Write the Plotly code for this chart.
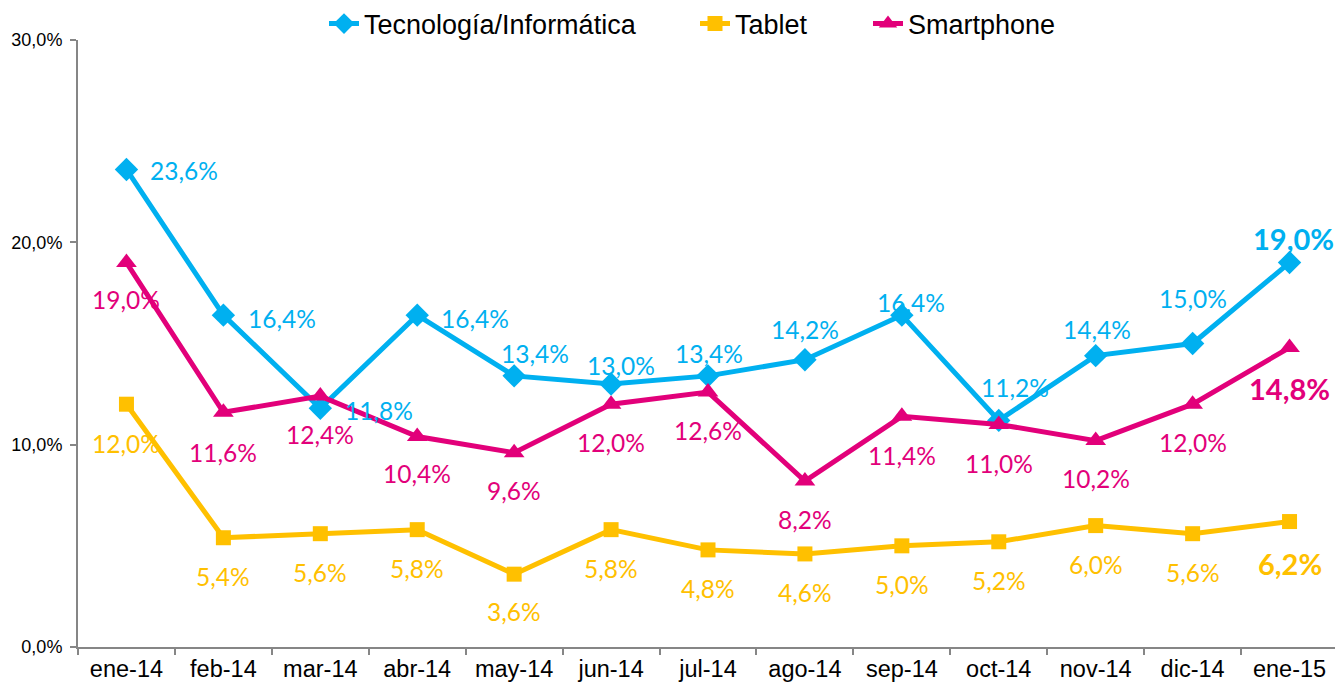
import plotly.graph_objects as go

categories = ["ene-14", "feb-14", "mar-14", "abr-14", "may-14", "jun-14", "jul-14",
              "ago-14", "sep-14", "oct-14", "nov-14", "dic-14", "ene-15"]
tecnologia = [23.6, 16.4, 11.8, 16.4, 13.4, 13.0, 13.4, 14.2, 16.4, 11.2, 14.4, 15.0, 19.0]
tablet = [12.0, 5.4, 5.6, 5.8, 3.6, 5.8, 4.8, 4.6, 5.0, 5.2, 6.0, 5.6, 6.2]
smartphone = [19.0, 11.6, 12.4, 10.4, 9.6, 12.0, 12.6, 8.2, 11.4, 11.0, 10.2, 12.0, 14.8]
y_ticks = [0, 10, 20, 30]

C_TEC = "#00B0F0"
C_TAB = "#FFC000"
C_SMA = "#E2007A"

# page body has an 8px default margin; figure is sized to compensate
W, H = 1335, 680

# label offsets in pixels (dx right, dy down)
off_tec = [(58, 1), (59, 3), (59, 2), (58, 3), (21, -22), (10, -18), (1, -22),
           (0, -30), (9, -13), (16, -33), (1, -26), (0, -45), (4, -24)]
off_sma = [(0, 37), (0, 40), (0, 38), (0, 37), (0, 38), (0, 38), (0, 38),
           (0, 38), (0, 39), (0, 39), (0, 38), (0, 38), (0, 41)]
off_tab = [(0, 39), (0, 39), (0, 39), (0, 39), (0, 37), (0, 39), (0, 39),
           (0, 39), (0, 39), (0, 39), (0, 39), (0, 39), (0, 42)]


def fmt(v):
    return f"{v:.1f}".replace(".", ",") + "%"


fig = go.Figure()
fig.add_trace(go.Scatter(x=categories, y=tecnologia, name="Tecnología/Informática",
                         mode="lines+markers", line=dict(color=C_TEC, width=5),
                         marker=dict(symbol="diamond", size=18, color=C_TEC),
                         legend="legend"))
fig.add_trace(go.Scatter(x=categories, y=tablet, name="Tablet",
                         mode="lines+markers", line=dict(color=C_TAB, width=5),
                         marker=dict(symbol="square", size=15, color=C_TAB),
                         legend="legend2"))
fig.add_trace(go.Scatter(x=categories, y=smartphone, name="Smartphone",
                         mode="lines+markers", line=dict(color=C_SMA, width=5),
                         marker=dict(symbol="triangle-up", size=18, color=C_SMA),
                         legend="legend3"))

annotations = []
for series, offs, col in [(tecnologia, off_tec, C_TEC), (smartphone, off_sma, C_SMA), (tablet, off_tab, C_TAB)]:
    n = len(series)
    for i, (v, (dx, dy)) in enumerate(zip(series, offs)):
        last = i == n - 1
        txt = f"<b>{fmt(v)}</b>" if last else fmt(v)
        annotations.append(dict(x=categories[i], y=v, xref="x", yref="y", text=txt,
                                showarrow=False, xshift=dx, yshift=-dy,
                                font=dict(family="Lato, Open Sans, sans-serif",
                                          size=29 if last else 24.5, color=col)))

legend_font = dict(family="Liberation Sans, Arial, sans-serif", size=27, color="black")


def leg(text_left):
    return dict(orientation="h", x=(text_left - 8 - 42) / W, xanchor="left", xref="container",
                y=1 - 16 / H, yanchor="middle", yref="container",
                font=legend_font, bgcolor="rgba(0,0,0,0)")


fig.update_layout(
    width=W, height=H,
    margin=dict(l=70, r=5, t=32, b=41, autoexpand=False),
    paper_bgcolor="white", plot_bgcolor="white",
    showlegend=True,
    legend=leg(366), legend2=leg(737), legend3=leg(910),
    annotations=annotations,
    xaxis=dict(type="category", range=[-0.5, 12.5], showline=True, linecolor="#868686",
               linewidth=2, ticks="outside", tickson="boundaries", ticklen=6,
               tickcolor="#868686", tickwidth=2, showgrid=False, zeroline=False,
               automargin=False,
               tickfont=dict(family="Liberation Sans, Arial, sans-serif", size=23.5, color="black")),
    yaxis=dict(range=[0, 30], tickvals=y_ticks, ticktext=[fmt(t) for t in y_ticks],
               showline=True, linecolor="#868686", linewidth=2, ticks="outside",
               ticklen=6, tickcolor="#868686", tickwidth=2, showgrid=False, zeroline=False,
               automargin=False, ticklabelstandoff=4,
               tickfont=dict(family="Liberation Sans, Arial, sans-serif", size=18, color="black")),
)

fig.write_html("out.html")
